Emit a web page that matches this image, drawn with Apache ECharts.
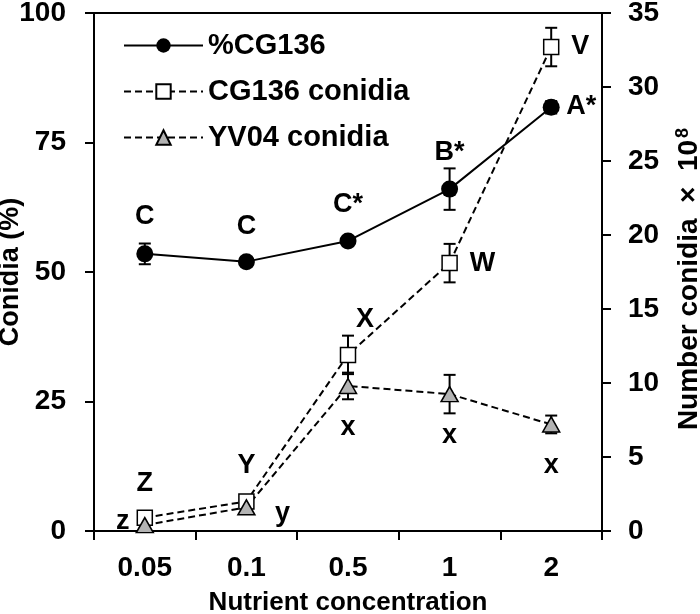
<!DOCTYPE html>
<html>
<head>
<meta charset="utf-8">
<script src="https://cdn.jsdelivr.net/npm/echarts@6/dist/echarts.min.js"></script>
<style>html,body{margin:0;padding:0;background:#fff}#c{width:700px;height:614px}</style>
</head>
<body>
<div id="c"></div>
<script>
var categories = ['0.05', '0.1', '0.5', '1', '2'];
var leftTicks = [0, 25, 50, 75, 100];
var rightTicks = [0, 5, 10, 15, 20, 25, 30, 35];

var pctCG136 = [53.5, 52.0, 56.0, 66.0, 81.8];
var pctCG136Err = [2.0, 0.8, 0.8, 4.0, 1.2];
var pctLetters = ['C', 'C', 'C*', 'B*', 'A*'];

var cg136Conidia = [0.9, 2.0, 11.9, 18.1, 32.7];
var cg136ConidiaErr = [0.3, 0.3, 1.3, 1.3, 1.3];
var cg136Letters = ['Z', 'Y', 'X', 'W', 'V'];

var yv04Conidia = [0.4, 1.6, 9.8, 9.25, 7.2];
var yv04ConidiaErr = [0.2, 0.3, 0.9, 1.3, 0.6];
var yv04Letters = ['z', 'y', 'x', 'x', 'x'];

var FONT = '"Liberation Sans", Arial, sans-serif';
var LBL = 27;

function withLabels(values, letters, offsets) {
  return values.map(function (v, i) {
    return {
      value: v,
      label: {
        show: true, position: 'inside', offset: offsets[i], formatter: letters[i],
        color: '#000', fontFamily: FONT, fontWeight: 'bold', fontSize: LBL
      }
    };
  });
}

function errData(values, errs) {
  return values.map(function (v, i) { return [i, v - errs[i], v + errs[i]]; });
}

function errSeries(values, errs, yIdx) {
  return {
    type: 'custom', yAxisIndex: yIdx, z: 1, silent: true,
    data: errData(values, errs),
    encode: { x: 0, y: [1, 2] },
    renderItem: function (params, api) {
      var lo = api.coord([api.value(0), api.value(1)]);
      var hi = api.coord([api.value(0), api.value(2)]);
      var w = 6;
      var st = { stroke: '#000', lineWidth: 2 };
      return {
        type: 'group',
        children: [
          { type: 'line', shape: { x1: lo[0], y1: lo[1], x2: hi[0], y2: hi[1] }, style: st },
          { type: 'line', shape: { x1: lo[0] - w, y1: lo[1], x2: lo[0] + w, y2: lo[1] }, style: st },
          { type: 'line', shape: { x1: hi[0] - w, y1: hi[1], x2: hi[0] + w, y2: hi[1] }, style: st }
        ]
      };
    }
  };
}

var chart = echarts.init(document.getElementById('c'), null, { renderer: 'canvas' });
var axisCommon = {
  axisLine: { show: true, lineStyle: { color: '#000', width: 2 } },
  axisTick: { show: true, length: 9, lineStyle: { color: '#000', width: 2 } },
  splitLine: { show: false },
  nameMoveOverlap: false,
  axisLabel: { color: '#000', fontFamily: FONT, fontWeight: 'bold', fontSize: 28 },
  nameTextStyle: { color: '#000', fontFamily: FONT, fontWeight: 'bold', fontSize: 27 }
};

chart.setOption({
  animation: false,
  backgroundColor: '#fff',
  grid: { left: 94, right: 98, top: 13, bottom: 83, show: true, borderColor: '#000', borderWidth: 2, backgroundColor: 'transparent', containLabel: false, outerBoundsMode: 'none' },
  legend: {
    left: 118, top: 26, orient: 'vertical',
    itemWidth: 79, itemHeight: 18, itemGap: 17,
    textStyle: { color: '#000', fontFamily: FONT, fontWeight: 'bold', fontSize: 29 },
    data: ['%CG136', 'CG136 conidia', 'YV04 conidia']
  },
  xAxis: Object.assign({}, axisCommon, {
    type: 'category', data: categories, boundaryGap: true,
    axisTick: { show: true, length: 9, alignWithLabel: false, lineStyle: { color: '#000', width: 2 } },
    axisLabel: Object.assign({}, axisCommon.axisLabel, { margin: 23 }),
    name: 'Nutrient concentration', nameLocation: 'middle', nameGap: 59,
    nameTextStyle: { color: '#000', fontFamily: FONT, fontWeight: 'bold', fontSize: 26 }
  }),
  yAxis: [
    Object.assign({}, axisCommon, {
      type: 'value', min: leftTicks[0], max: leftTicks[leftTicks.length - 1], interval: leftTicks[1] - leftTicks[0],
      position: 'left',
      axisLabel: Object.assign({}, axisCommon.axisLabel, { margin: 28 }),
      name: 'Conidia (%)', nameLocation: 'middle', nameGap: 70, nameRotate: 90
    }),
    Object.assign({}, axisCommon, {
      type: 'value', min: rightTicks[0], max: rightTicks[rightTicks.length - 1], interval: rightTicks[1] - rightTicks[0],
      position: 'right',
      axisLabel: Object.assign({}, axisCommon.axisLabel, { margin: 26 }),
      name: '{a|Number conidia  ×  10}{b|8}', nameLocation: 'middle', nameGap: 72, nameRotate: 90,
      nameTextStyle: {
        color: '#000', fontFamily: FONT, fontWeight: 'bold', fontSize: 28,
        padding: [0, 14, 0, 0],
        rich: {
          a: { color: '#000', fontFamily: FONT, fontWeight: 'bold', fontSize: 28 },
          b: { color: '#000', fontFamily: FONT, fontWeight: 'bold', fontSize: 18, verticalAlign: 'top', padding: [0, 0, 12, 2] }
        }
      }
    })
  ],
  series: [
    errSeries(pctCG136, pctCG136Err, 0),
    errSeries(cg136Conidia, cg136ConidiaErr, 1),
    errSeries(yv04Conidia, yv04ConidiaErr, 1),
    {
      name: 'CG136 conidia', type: 'line', yAxisIndex: 1, z: 3,
      symbol: 'rect', symbolSize: 15,
      lineStyle: { color: '#000', width: 2, type: [7, 4] },
      itemStyle: { color: '#fff', borderColor: '#000', borderWidth: 1.5 },
      data: withLabels(cg136Conidia, cg136Letters, [[0, -34], [0, -36], [17, -35], [33, 0], [29, 0]])
    },
    {
      name: 'YV04 conidia', type: 'line', yAxisIndex: 1, z: 3,
      symbol: 'triangle', symbolSize: [17, 15],
      lineStyle: { color: '#000', width: 2, type: [7, 4] },
      itemStyle: { color: '#b3b3b3', borderColor: '#000', borderWidth: 1.5 },
      data: withLabels(yv04Conidia, yv04Letters, [[-22, -4], [36, 6], [0, 42], [0, 41], [0, 41]])
    },
    {
      name: '%CG136', type: 'line', yAxisIndex: 0, z: 4,
      symbol: 'circle', symbolSize: 17,
      lineStyle: { color: '#000', width: 2, type: 'solid' },
      itemStyle: { color: '#000', borderColor: '#000', borderWidth: 0 },
      data: withLabels(pctCG136, pctLetters, [[0, -37], [0, -35], [0, -36], [0, -37], [30, -1]])
    }
  ]
});
</script>
</body>
</html>
